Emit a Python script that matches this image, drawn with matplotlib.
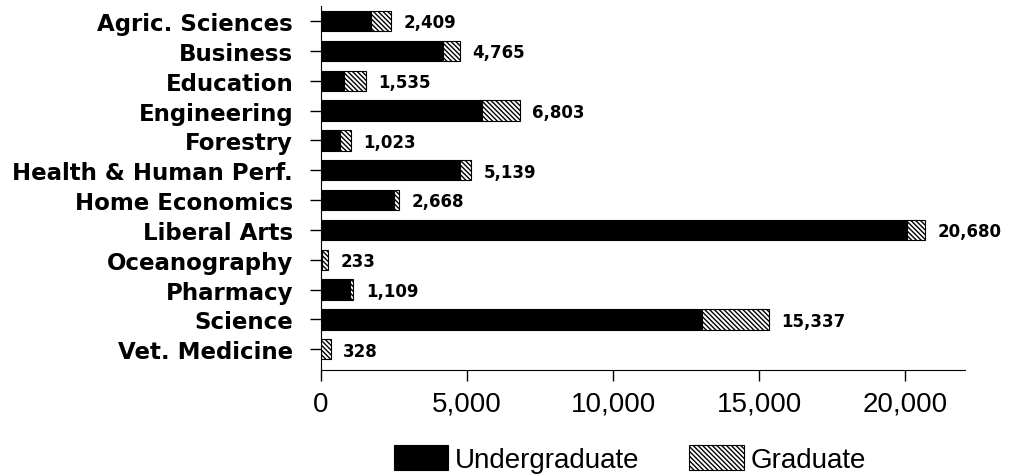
import matplotlib.pyplot as plt
import matplotlib.ticker as mticker
import numpy as np

plt.rcParams['font.family'] = ['Liberation Sans', 'DejaVu Sans']
plt.rcParams['hatch.linewidth'] = 1.0

colleges = ['Agric. Sciences', 'Business', 'Education', 'Engineering', 'Forestry',
            'Health & Human Perf.', 'Home Economics', 'Liberal Arts', 'Oceanography',
            'Pharmacy', 'Science', 'Vet. Medicine']
undergrad = [1720, 4190, 800, 5520, 665, 4750, 2490, 20050, 50, 1000, 13050, 0]
totals = [2409, 4765, 1535, 6803, 1023, 5139, 2668, 20680, 233, 1109, 15337, 328]
graduate = [t - u for t, u in zip(totals, undergrad)]
xticks = [0, 5000, 10000, 15000, 20000]

fig = plt.figure(figsize=(10.11, 4.77), dpi=100)
ax = fig.add_axes([0.3175, 0.222, 0.637, 0.763])

y = np.arange(len(colleges))
ax.barh(y, undergrad, height=0.68, color='black', edgecolor='black', linewidth=0.8,
        label='Undergraduate')
ax.barh(y, graduate, left=undergrad, height=0.68, color='white', edgecolor='black',
        linewidth=0.8, hatch='\\' * 7, label='Graduate')

# totals at the end of each bar
for yi, t in zip(y, totals):
    ax.annotate(f'{t:,}', (t, yi), xytext=(9, -1), textcoords='offset points',
                va='center', ha='left', fontsize=12, fontweight='bold',
                family='DejaVu Sans')

ax.set_ylim(11.7, -0.5)
ax.set_xlim(0, 22050)
ax.set_yticks(y)
ax.set_yticklabels(colleges, fontsize=16.5, fontweight='bold', family='DejaVu Sans')
ax.set_xticks(xticks)
ax.xaxis.set_major_formatter(mticker.FuncFormatter(lambda v, p: f'{int(v):,}'))
for lab in ax.get_xticklabels():
    lab.set_fontsize(20)
ax.tick_params(axis='y', length=8, width=1, pad=12)
ax.tick_params(axis='x', length=8, width=1, pad=7)
ax.spines['top'].set_visible(False)
ax.spines['right'].set_visible(False)

fig.legend(loc='center', bbox_to_anchor=(0.623, 0.036), ncol=2, frameon=False,
           fontsize=20, handlelength=1.95, handleheight=1.0, columnspacing=1.8,
           handletextpad=0.25)

fig.savefig('out.png', dpi=100)
